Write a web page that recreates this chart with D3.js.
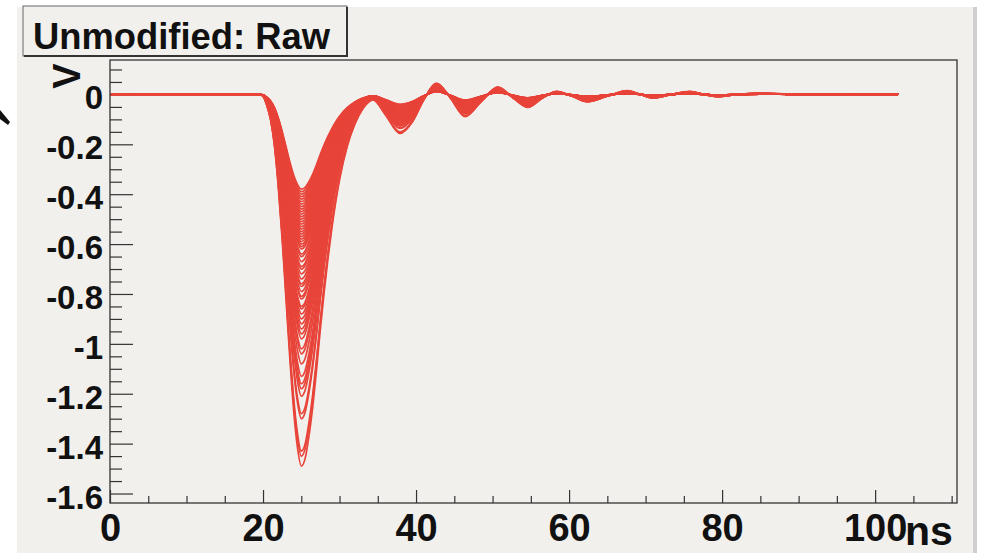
<!DOCTYPE html>
<html>
<head>
<meta charset="utf-8">
<script src="https://cdn.jsdelivr.net/npm/d3@7"></script>
<style>
  html, body { margin: 0; padding: 0; background: #ffffff; }
  svg { display: block; }
  text { font-family: "Liberation Sans", Arial, Helvetica, sans-serif; font-weight: bold; fill: #111; }
</style>
</head>
<body>
<svg id="chart" width="983" height="556"></svg>
<script>
// Pulse shape of the recorded waveforms: time (ns) and the fraction of each
// trace's peak voltage at that time (1 = trough, negative = overshoot).
const pulseTimeNs = [0, 19.5, 20, 20.5, 21, 21.5, 22, 22.5, 23, 23.5, 24, 24.5, 25, 25.5, 26, 26.5,
  27, 27.5, 28, 28.5, 29, 29.5, 30, 31, 32, 33, 34.4, 36, 37.9, 39.5, 41, 42.7, 44.5, 46.4, 48.5,
  50.7, 52.7, 54.6, 56.5, 58.4, 60.4, 62.4, 65, 67.6, 69.3, 71, 73.4, 75.8, 77.6, 79.5, 82, 85,
  90, 95, 103];
const pulseFraction = [0, 0, 0.005, 0.03, 0.07, 0.14, 0.25, 0.39, 0.55, 0.71, 0.85, 0.95, 1.0, 0.98,
  0.92, 0.84, 0.74, 0.63, 0.53, 0.44, 0.36, 0.29, 0.23, 0.14, 0.08, 0.04, 0.015, 0.055, 0.105,
  0.075, 0.015, -0.03, 0.01, 0.06, 0.02, -0.02, 0.01, 0.035, 0.01, -0.008, 0.005, 0.02, 0.005,
  -0.01, 0.0, 0.01, 0.0, -0.008, 0.0, 0.006, 0.0, -0.003, 0.0, 0.002, 0.0];

// Trough voltage (V) of every overlaid waveform.
const peakVolts = [-0.38, -0.39, -0.40, -0.41, -0.42, -0.43, -0.44, -0.45, -0.46, -0.47, -0.48,
  -0.49, -0.50, -0.51, -0.52, -0.53, -0.54, -0.55, -0.56, -0.57, -0.58, -0.59, -0.60, -0.61,
  -0.62, -0.64, -0.65, -0.67, -0.69, -0.70, -0.72, -0.74, -0.76, -0.77, -0.79, -0.81, -0.82,
  -0.85, -0.86, -0.88, -0.90, -0.92, -0.94, -0.96, -0.98, -1.02, -1.04, -1.08, -1.13, -1.16,
  -1.18, -1.21, -1.28, -1.30, -1.43, -1.45, -1.49];

// Axis ticks and labels.
const xMajorTicks = [0, 20, 40, 60, 80, 100];
const xMajorLabels = ["0", "20", "40", "60", "80", "100"];
const xMinorTicks = [5, 10, 15, 25, 30, 35, 45, 50, 55, 65, 70, 75, 85, 90, 95, 105, 110];
const yMajorTicks = [-1.6, -1.4, -1.2, -1.0, -0.8, -0.6, -0.4, -0.2, 0];
const yMajorLabels = ["-1.6", "-1.4", "-1.2", "-1", "-0.8", "-0.6", "-0.4", "-0.2", "0"];
const yMinorTicks = [-1.55, -1.5, -1.45, -1.35, -1.3, -1.25, -1.15, -1.1, -1.05, -0.95, -0.9,
  -0.85, -0.75, -0.7, -0.65, -0.55, -0.5, -0.45, -0.35, -0.3, -0.25, -0.15, -0.1, -0.05, 0.05, 0.1];

const titleText = "Unmodified: Raw";
const yTitle = "V";
const xUnit = "ns";

const svg = d3.select("#chart");
const W = 983, H = 556;
const frame = { left: 110, right: 957, top: 60, bottom: 503 };
const bg = "#f2f0ed";
const traceColor = "#e8443a";
const axisColor = "#333";

// Canvas
svg.append("rect").attr("x", 0).attr("y", 0).attr("width", W).attr("height", H).attr("fill", "#ffffff");
svg.append("rect").attr("x", 17).attr("y", 7).attr("width", 956).attr("height", 546).attr("fill", bg);
svg.append("rect").attr("x", 973).attr("y", 7).attr("width", 4).attr("height", 546).attr("fill", "#cfcfcf");

// Pointer at the left edge
svg.append("path").attr("d", "M0,110 L10,122 L8,125 L0,119 Z").attr("fill", "#111");

const x = d3.scaleLinear().domain([0, 110.7]).range([frame.left, frame.right]);
const y = d3.scaleLinear().domain([-1.638, 0.138]).range([frame.bottom, frame.top]);

// Plot area
svg.append("rect")
  .attr("x", frame.left).attr("y", frame.top)
  .attr("width", frame.right - frame.left).attr("height", frame.bottom - frame.top)
  .attr("fill", bg).attr("stroke", "none");

const labelFont = "'Liberation Sans', Arial, sans-serif";

// X axis (ticks point into the frame)
const xAxisMajor = d3.axisBottom(x).tickValues(xMajorTicks).tickSizeInner(-13).tickSizeOuter(0)
  .tickFormat((d, i) => xMajorLabels[i]);
const gx = svg.append("g").attr("transform", `translate(0,${frame.bottom})`).call(xAxisMajor);
gx.select(".domain").remove();
gx.selectAll(".tick line").attr("stroke", axisColor).attr("stroke-width", 1.2);
gx.selectAll(".tick text")
  .attr("y", 38).attr("dy", null)
  .style("font-size", "38px").style("font-family", labelFont)
  .style("font-weight", "bold").attr("fill", "#111");

const xAxisMinor = d3.axisBottom(x).tickValues(xMinorTicks).tickSizeInner(-7).tickSizeOuter(0).tickFormat("");
const gxm = svg.append("g").attr("transform", `translate(0,${frame.bottom})`).call(xAxisMinor);
gxm.select(".domain").remove();
gxm.selectAll(".tick line").attr("stroke", axisColor).attr("stroke-width", 1.2);

svg.append("text")
  .attr("x", 905).attr("y", 545)
  .style("font-size", "41px")
  .text(xUnit);

// Y axis (ticks point into the frame)
const yAxisMajor = d3.axisLeft(y).tickValues(yMajorTicks).tickSizeInner(-23).tickSizeOuter(0)
  .tickPadding(7)
  .tickFormat((d, i) => yMajorLabels[i]);
const gy = svg.append("g").attr("transform", `translate(${frame.left},0)`).call(yAxisMajor);
gy.select(".domain").remove();
gy.selectAll(".tick line").attr("stroke", axisColor).attr("stroke-width", 1.2);
gy.selectAll(".tick text")
  .attr("y", 3).attr("dy", "0.35em")
  .style("font-size", "33px").style("font-family", labelFont)
  .style("font-weight", "bold").attr("fill", "#111");

const yAxisMinor = d3.axisLeft(y).tickValues(yMinorTicks).tickSizeInner(-12).tickSizeOuter(0).tickFormat("");
const gym = svg.append("g").attr("transform", `translate(${frame.left},0)`).call(yAxisMinor);
gym.select(".domain").remove();
gym.selectAll(".tick line").attr("stroke", axisColor).attr("stroke-width", 1.2);

// Waveforms, drawn over the ticks
const plot = svg.append("g");
const line = d3.line()
  .x(d => x(d[0]))
  .y(d => y(d[1]))
  .curve(d3.curveMonotoneX);

plot.selectAll("path.trace")
  .data(peakVolts)
  .join("path")
  .attr("class", "trace")
  .attr("d", pk => line(pulseTimeNs.map((t, i) => [t, pk * pulseFraction[i]])))
  .attr("fill", "none")
  .attr("stroke", traceColor)
  .attr("stroke-width", 1.7)
  .attr("stroke-linejoin", "round");

// Frame outline
svg.append("rect")
  .attr("x", frame.left).attr("y", frame.top)
  .attr("width", frame.right - frame.left).attr("height", frame.bottom - frame.top)
  .attr("fill", "none").attr("stroke", axisColor).attr("stroke-width", 1.3);

// Y title, rotated along the axis
svg.append("text")
  .attr("transform", "translate(80,76) rotate(-90)")
  .attr("text-anchor", "middle")
  .style("font-size", "38px")
  .text(yTitle);

// Title box
const tb = { x: 23, y: 6, w: 324, h: 50 };
svg.append("rect").attr("x", tb.x).attr("y", tb.y).attr("width", tb.w).attr("height", tb.h)
  .attr("fill", bg).attr("stroke", "#666").attr("stroke-width", 1);
svg.append("path")
  .attr("d", `M${tb.x + tb.w},${tb.y + 1} V${tb.y + tb.h} H${tb.x + 1}`)
  .attr("fill", "none").attr("stroke", "#333").attr("stroke-width", 2);
svg.append("text")
  .attr("x", 33).attr("y", 49)
  .attr("textLength", 297)
  .attr("lengthAdjust", "spacingAndGlyphs")
  .style("font-size", "36px")
  .text(titleText);
</script>
</body>
</html>
